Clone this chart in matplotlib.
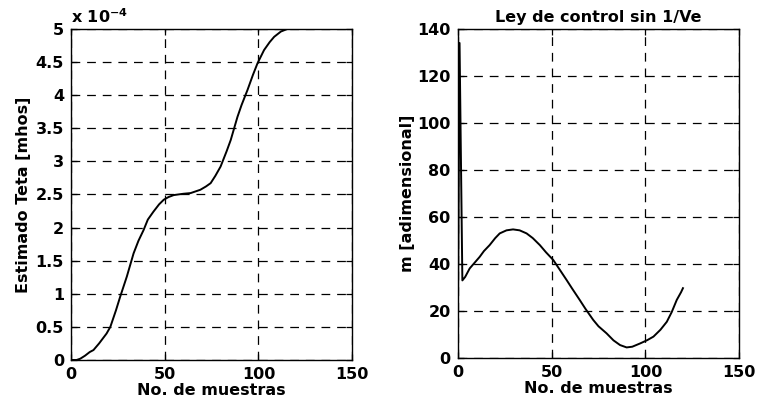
import matplotlib
matplotlib.use("Agg")
import matplotlib.pyplot as plt
from matplotlib.ticker import FuncFormatter

# ---- data ----
teta_x = [0, 3, 5, 7.5, 10, 12, 15, 19, 21, 24, 26.3, 29.8, 33.4, 36, 38.7, 41, 44, 47,
          49.5, 52, 54.8, 60, 63.8, 69, 72, 74.5, 77, 79.8, 83, 85.2, 88.8, 91, 94.2, 97,
          99.5, 103, 106, 108.4, 112, 115.6, 120]
teta_y = [0, 0, 0.02e-4, 0.065e-4, 0.12e-4, 0.15e-4, 0.25e-4, 0.40e-4, 0.5e-4, 0.75e-4,
          0.96e-4, 1.26e-4, 1.61e-4, 1.8e-4, 1.96e-4, 2.12e-4, 2.24e-4, 2.35e-4, 2.42e-4,
          2.46e-4, 2.49e-4, 2.51e-4, 2.52e-4, 2.57e-4, 2.62e-4, 2.67e-4, 2.78e-4, 2.92e-4,
          3.15e-4, 3.32e-4, 3.67e-4, 3.85e-4, 4.08e-4, 4.3e-4, 4.48e-4, 4.68e-4, 4.8e-4,
          4.88e-4, 4.96e-4, 5.0e-4, 5.0e-4]

m_x = [0, 1, 2.5, 4, 6.4, 9, 11.7, 14, 17, 20, 22.4, 26, 29.5, 33, 36.7, 40, 43.8, 47,
       50.9, 54, 58, 61, 65, 68, 72.2, 75, 79.3, 83, 86.5, 90, 93, 97.2, 101, 104.3, 108,
       111.4, 114, 116.7, 119, 120]
m_y = [0, 134, 33, 34.5, 38.1, 40.5, 43, 45.5, 48, 51, 53, 54.3, 54.7, 54.3, 53, 51, 48,
       45, 41.7, 38, 33.2, 29.5, 24.7, 21, 16.2, 13.5, 10.5, 7.5, 5.5, 4.5, 4.8, 6.2, 7.6,
       9.1, 12, 15.4, 19.5, 24.7, 28, 29.7]

x_ticks = [0, 50, 100, 150]
teta_ticks = [0, 0.5e-4, 1e-4, 1.5e-4, 2e-4, 2.5e-4, 3e-4, 3.5e-4, 4e-4, 4.5e-4, 5e-4]
m_ticks = [0, 20, 40, 60, 80, 100, 120, 140]

plt.rcParams['font.family'] = ['DejaVu Sans']
plt.rcParams['font.weight'] = 'bold'
plt.rcParams['mathtext.fontset'] = 'dejavusans'
plt.rcParams['mathtext.default'] = 'bf'

fig = plt.figure(figsize=(7.59, 3.98), dpi=100)
ax1 = fig.add_axes([0.0935, 0.0955, 0.3705, 0.832])
ax2 = fig.add_axes([0.603, 0.1005, 0.371, 0.827])

fs = 11.5
for ax in (ax1, ax2):
    ax.grid(True, color='black', linestyle=(0, (7, 5.5)), linewidth=0.9)
    ax.tick_params(direction='in', length=4, width=0.9, labelsize=fs, pad=5,
                   top=True, right=True)
    for s in ax.spines.values():
        s.set_linewidth(1.0)
        s.set_color('black')
    ax.set_xlim(0, 150)
    ax.set_xticks(x_ticks)
    ax.set_xlabel('No. de muestras', fontsize=fs, fontweight='bold', labelpad=1)

ax1.plot(teta_x, teta_y, color='black', linewidth=1.4)
ax1.set_ylim(0, 5e-4)
ax1.set_yticks(teta_ticks)
ax1.yaxis.set_major_formatter(FuncFormatter(lambda v, p: '%g' % round(v / 1e-4, 2)))
ax1.set_ylabel('Estimado Teta [mhos]', fontsize=fs, fontweight='bold', labelpad=3)
ax1.text(0.0, 1.01, r'x 10$^{-4}$', transform=ax1.transAxes, fontsize=fs,
         fontweight='bold', ha='left', va='bottom')

ax2.plot(m_x, m_y, color='black', linewidth=1.4)
ax2.set_ylim(0, 140)
ax2.set_yticks(m_ticks)
ax2.set_ylabel('m [adimensional]', fontsize=fs, fontweight='bold', labelpad=2)
ax2.set_title('Ley de control sin 1/Ve', fontsize=fs, fontweight='bold', pad=5)

for ax in (ax1, ax2):
    for lab in ax.get_xticklabels() + ax.get_yticklabels():
        lab.set_fontweight('bold')

fig.savefig('out.png', dpi=100)
